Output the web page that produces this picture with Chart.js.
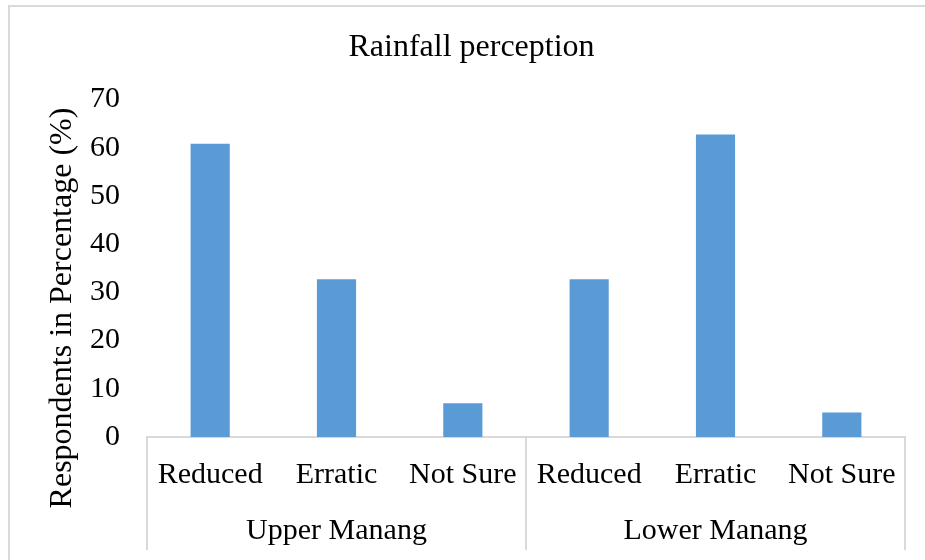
<!DOCTYPE html>
<html>
<head>
<meta charset="utf-8">
<script src="https://cdn.jsdelivr.net/npm/chart.js@4.4.1/dist/chart.umd.min.js"></script>
<style>
    body { margin: 0; background: #fff; }
    #wrap { width: 925px; height: 560px; }
</style>
</head>
<body>
<div id="wrap"><canvas id="rain-chart" width="925" height="560"></canvas></div>
<script>
// Data
const categories = ["Reduced", "Erratic", "Not Sure", "Reduced", "Erratic", "Not Sure"];
const groups = ["Upper Manang", "Lower Manang"];
const groupSize = 3;
const percentages = [60.8, 32.7, 7.0, 32.7, 62.7, 5.1];
const yTicks = [0, 10, 20, 30, 40, 50, 60, 70];

const serif = "'Liberation Serif', 'Times New Roman', serif";
const lineGray = '#d9d9d9';

// frame, y title, group labels and the separators under the axis
const excelBits = {
    id: 'excelBits',
    beforeDraw(chart) {
        const ctx = chart.ctx;
        ctx.save();
        ctx.fillStyle = '#fff';
        ctx.fillRect(0, 0, chart.width, chart.height);
        ctx.strokeStyle = lineGray;
        ctx.lineWidth = 2;
        ctx.beginPath();
        ctx.moveTo(9, chart.height);
        ctx.lineTo(9, 6);
        ctx.lineTo(chart.width, 6);
        ctx.stroke();
        ctx.restore();
    },
    afterDraw(chart) {
        const ctx = chart.ctx;
        const x = chart.scales.x;
        const area = chart.chartArea;
        const bottom = 550;
        const half = (x.getPixelForValue(1) - x.getPixelForValue(0)) / 2;

        ctx.save();
        ctx.strokeStyle = lineGray;
        ctx.lineWidth = 2;
        for (let g = 0; g <= groups.length; g++) {
            let px;
            if (g === groups.length) px = x.getPixelForValue(g * groupSize - 1) + half;
            else px = x.getPixelForValue(g * groupSize) - half;
            ctx.beginPath();
            ctx.moveTo(px, area.bottom);
            ctx.lineTo(px, bottom);
            ctx.stroke();
        }

        ctx.fillStyle = '#000';
        ctx.font = '30px ' + serif;
        ctx.textAlign = 'center';
        ctx.textBaseline = 'middle';
        groups.forEach((name, g) => {
            const a = x.getPixelForValue(g * groupSize);
            const b = x.getPixelForValue(g * groupSize + groupSize - 1);
            ctx.fillText(name, (a + b) / 2, 531);
        });

        ctx.font = '32px ' + serif;
        ctx.translate(63, 308);
        ctx.rotate(-Math.PI / 2);
        ctx.fillText('Respondents in Percentage (%)', 0, 0);
        ctx.restore();
    }
};

new Chart(document.getElementById('rain-chart'), {
    type: 'bar',
    data: {
        labels: categories,
        datasets: [{
            data: percentages,
            backgroundColor: '#5b9bd5',
            barPercentage: 0.31,
            categoryPercentage: 1
        }]
    },
    options: {
        responsive: false,
        animation: false,
        layout: {
            padding: { left: 38, right: 20, top: 0, bottom: 0 }
        },
        scales: {
            x: {
                grid: { display: false, drawTicks: false },
                border: { display: true, color: lineGray, width: 2 },
                ticks: {
                    color: '#000',
                    font: { family: serif, size: 30 },
                    padding: 20,
                    maxRotation: 0,
                    autoSkip: false
                },
                afterFit(scale) { scale.height = 123; }
            },
            y: {
                min: 0,
                max: 70,
                grid: { display: false, drawTicks: false },
                border: { display: false },
                afterBuildTicks(scale) {
                    scale.ticks = yTicks.map(v => ({ value: v }));
                },
                ticks: {
                    color: '#000',
                    font: { family: serif, size: 30 },
                    padding: 27
                },
                afterFit(scale) { scale.width = 109; }
            }
        },
        plugins: {
            legend: { display: false },
            tooltip: { enabled: false },
            title: {
                display: true,
                text: 'Rainfall perception',
                color: '#000',
                font: { family: serif, size: 32, weight: 'normal' },
                padding: { top: 28, bottom: 33 }
            }
        }
    },
    plugins: [excelBits]
});
</script>
</body>
</html>
